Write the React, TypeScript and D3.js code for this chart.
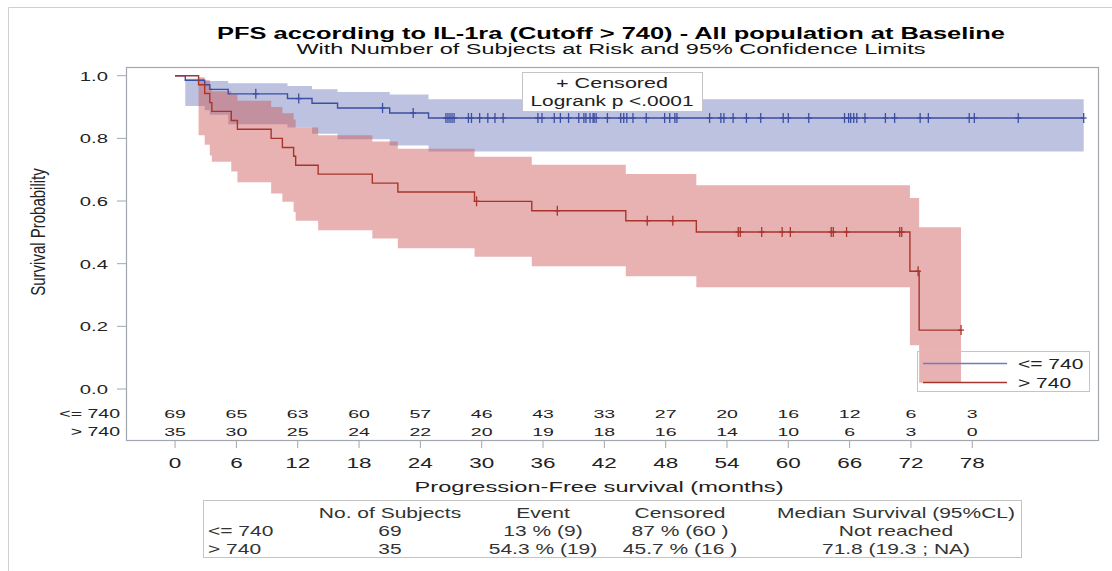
import React from "react";
import * as d3 from "d3";

// KM curves: PFS by IL-1ra cutoff (<= 740 vs > 740)
const groups = ["<= 740", "> 740"];

// <= 740 : event times, survival, 95% CL
const lowTimes = [1.0, 2.9, 3.4, 5.2, 11.0, 13.4, 15.9, 21.0, 24.8];
const lowSurv = [0.9855, 0.971, 0.9565, 0.942, 0.927, 0.912, 0.897, 0.881, 0.865];
const lowLower = [0.903, 0.89, 0.875, 0.845, 0.835, 0.815, 0.797, 0.777, 0.758];
const lowUpper = [0.99, 0.985, 0.983, 0.976, 0.967, 0.957, 0.948, 0.94, 0.925];
const lowEnd = 88.9;
const lowCensor = [
  7.9, 12.1, 20.3, 23.3, 26.5, 26.7, 26.9, 27.1, 27.3, 28.7, 29.0, 29.8, 30.6, 31.3, 32.1,
  35.5, 35.9, 37.1, 37.7, 38.5, 39.5, 40.0, 40.2, 40.6, 40.9, 41.0, 41.2, 42.3, 43.6, 43.9,
  44.2, 44.8, 46.1, 47.9, 48.4, 48.9, 49.1, 52.3, 53.4, 53.7, 54.6, 55.9, 57.3, 59.5, 60.0,
  62.0, 65.5, 65.9, 66.1, 66.4, 66.7, 67.5, 69.5, 70.4, 72.9, 73.7, 77.7, 78.2, 82.5, 88.9,
];

// > 740
const highTimes = [2.3, 2.9, 3.4, 3.6, 5.5, 6.1, 9.4, 10.5, 11.6, 11.8, 14.0, 19.3, 21.8, 29.3, 34.9, 44.1, 51.0, 71.9, 72.8];
const highSurv = [0.971, 0.943, 0.914, 0.886, 0.857, 0.829, 0.8, 0.771, 0.743, 0.714, 0.686, 0.657, 0.629, 0.599, 0.569, 0.537, 0.501, 0.376, 0.188];
const highLower = [0.81, 0.78, 0.745, 0.725, 0.694, 0.66, 0.624, 0.598, 0.565, 0.537, 0.507, 0.48, 0.449, 0.422, 0.392, 0.36, 0.325, 0.14, 0.02];
const highUpper = [0.995, 0.985, 0.96, 0.95, 0.94, 0.92, 0.9, 0.88, 0.86, 0.835, 0.81, 0.79, 0.767, 0.741, 0.716, 0.686, 0.65, 0.61, 0.516];
const highEnd = 76.9;
const highCensor = [29.5, 37.4, 46.2, 48.7, 55.1, 55.3, 57.4, 59.4, 60.2, 64.2, 64.4, 65.7, 70.9, 71.1, 72.7, 76.9];

// at risk
const xTicks = [0, 6, 12, 18, 24, 30, 36, 42, 48, 54, 60, 66, 72, 78];
const atRiskLow = [69, 65, 63, 60, 57, 46, 43, 33, 27, 20, 16, 12, 6, 3];
const atRiskHigh = [35, 30, 25, 24, 22, 20, 19, 18, 16, 14, 10, 6, 3, 0];
const yTicks = [0, 0.2, 0.4, 0.6, 0.8, 1.0];

// summary table
const tableHead = ["No. of Subjects", "Event", "Censored", "Median Survival (95%CL)"];
const tableN = ["69", "35"];
const tableEvent = ["13 % (9)", "54.3 % (19)"];
const tableCens = ["87 % (60 )", "45.7 % (16 )"];
const tableMedian = ["Not reached", "71.8 (19.3 ; NA)"];

const FONT = "'Liberation Sans', Arial, sans-serif";
const BLUE = "#3d4fa2";
const RED = "#a8352c";
const GRID = "#a3a7ae";

function Txt({ x, y, anchor = "start", size = 14, weight = "normal", sx = 1.5, fill = "#222", len, children }: any) {
  const extra = len ? { textLength: len / sx, lengthAdjust: "spacingAndGlyphs" } : {};
  return (
    <text transform={`translate(${x},${y}) scale(${sx},1)`} textAnchor={anchor} fontSize={size}
      fontWeight={weight} fill={fill} fontFamily={FONT} {...extra}>
      {children}
    </text>
  );
}

export default function App() {
  const left = 126, right = 1098, top = 67, bottom = 440;
  const x = d3.scaleLinear().domain([-4.8, 90.3]).range([left, right]);
  const y = d3.scaleLinear().domain([0, 1]).range([389, 75.7]);

  const km = (times: number[], surv: number[], end: number) =>
    d3.line<[number, number]>().x((d) => x(d[0])).y((d) => y(d[1])).curve(d3.curveStepAfter)(
      [[0, 1], ...times.map((t, i) => [t, surv[i]] as [number, number]), [end, surv[surv.length - 1]]]
    ) as string;

  const band = (times: number[], lo: number[], hi: number[], end: number) => {
    const pts = times.map((t, i) => ({ t, lo: lo[i], hi: hi[i] }));
    pts.push({ t: end, lo: lo[lo.length - 1], hi: hi[hi.length - 1] });
    return d3.area<any>().x((d) => x(d.t)).y0((d) => y(d.lo)).y1((d) => y(d.hi)).curve(d3.curveStepAfter)(pts) as string;
  };

  const survAt = (times: number[], surv: number[], t: number) => {
    let s = 1;
    times.forEach((tt, i) => { if (tt <= t) s = surv[i]; });
    return s;
  };

  const censorMarks = (cens: number[], times: number[], surv: number[], color: string) =>
    cens.map((t, i) => {
      const cx = x(t), cy = y(survAt(times, surv, t));
      return (
        <g key={i} stroke={color} strokeWidth={1.3}>
          <line x1={cx} x2={cx} y1={cy - 5} y2={cy + 5} />
          <line x1={cx - 3} x2={cx + 3} y1={cy} y2={cy} />
        </g>
      );
    });

  const colX = [390, 543, 680, 896];

  return (
    <svg width={1112} height={571} style={{ position: "absolute", left: 0, top: 0, background: "#fff" }}>
      {/* outer border */}
      <path d="M8.5,571 V7.5 H1112" fill="none" stroke="#d0d0d0" />

      <Txt x={611} y={39} anchor="middle" size={17} weight="bold" fill="#000" len={788}>
        PFS according to IL-1ra (Cutoff &gt; 740) - All population at Baseline
      </Txt>
      <Txt x={611} y={54} anchor="middle" size={14.5} fill="#111" len={629}>
        With Number of Subjects at Risk and 95% Confidence Limits
      </Txt>

      {/* bands */}
      <path d={band(lowTimes, lowLower, lowUpper, lowEnd)} fill="#6b78b8" fillOpacity={0.45} />
      <path d={band(highTimes, highLower, highUpper, highEnd)} fill="#cc5555" fillOpacity={0.45} />

      {/* curves */}
      <path d={km(lowTimes, lowSurv, lowEnd)} fill="none" stroke={BLUE} strokeWidth={1.4} />
      <path d={km(highTimes, highSurv, highEnd)} fill="none" stroke={RED} strokeWidth={1.4} />
      {censorMarks(lowCensor, lowTimes, lowSurv, BLUE)}
      {censorMarks(highCensor, highTimes, highSurv, RED)}

      {/* frame */}
      <rect x={left + 0.5} y={top + 0.5} width={right - left} height={bottom - top} fill="none" stroke={GRID} strokeWidth={1.2} />

      {/* y axis */}
      {yTicks.map((v) => (
        <g key={v}>
          <line x1={left - 9} x2={left} y1={y(v)} y2={y(v)} stroke={GRID} />
          <Txt x={left - 18} y={y(v) + 5} anchor="end" size={13.5}>{v.toFixed(1)}</Txt>
        </g>
      ))}
      <text transform="translate(45,232) scale(1.35,1) rotate(-90)" textAnchor="middle" fontSize={15}
        fontFamily={FONT} fill="#222">Survival Probability</text>

      {/* x axis */}
      {xTicks.map((v) => (
        <g key={v}>
          <line x1={x(v)} x2={x(v)} y1={bottom + 1} y2={bottom + 8} stroke={GRID} />
          <Txt x={x(v)} y={468} anchor="middle" size={15}>{v}</Txt>
        </g>
      ))}
      <Txt x={599} y={492} anchor="middle" size={15.5} len={369}>Progression-Free survival (months)</Txt>

      {/* at risk */}
      <Txt x={120} y={418} anchor="end" size={13}>{groups[0]}</Txt>
      <Txt x={120} y={435.5} anchor="end" size={13}>{groups[1]}</Txt>
      {xTicks.map((v, i) => (
        <g key={v}>
          <Txt x={x(v)} y={418} anchor="middle" size={11.5} sx={1.7}>{atRiskLow[i]}</Txt>
          <Txt x={x(v)} y={435.5} anchor="middle" size={11.5} sx={1.7}>{atRiskHigh[i]}</Txt>
        </g>
      ))}

      {/* inset legend */}
      <rect x={522.5} y={72.5} width={180} height={39} fill="#fff" stroke="#c4c4c4" />
      <Txt x={612} y={88} anchor="middle" size={14.5} len={112}>+ Censored</Txt>
      <Txt x={612} y={106} anchor="middle" size={14.5} len={163}>Logrank p &lt;.0001</Txt>

      {/* group legend */}
      <rect x={917.5} y={351.5} width={172} height={40} fill="none" stroke="#c4c4c4" />
      <line x1={923} x2={1007} y1={363.5} y2={363.5} stroke="#6f7bbf" strokeWidth={1.4} />
      <line x1={923} x2={1007} y1={382.5} y2={382.5} stroke={RED} strokeWidth={1.4} />
      <Txt x={1018} y={368.5} size={14}>{groups[0]}</Txt>
      <Txt x={1018} y={387.5} size={14}>{groups[1]}</Txt>

      {/* summary table */}
      <rect x={203.5} y={500.5} width={818} height={57} fill="none" stroke="#c4c4c4" />
      {tableHead.map((h, i) => (
        <Txt key={h} x={colX[i]} y={518} anchor="middle" size={14} fill="#333">{h}</Txt>
      ))}
      {groups.map((g, r) => (
        <g key={g}>
          <Txt x={208} y={536 + r * 18} size={14} fill="#333">{g}</Txt>
          <Txt x={colX[0]} y={536 + r * 18} anchor="middle" size={14} fill="#333">{tableN[r]}</Txt>
          <Txt x={colX[1]} y={536 + r * 18} anchor="middle" size={14} fill="#333">{tableEvent[r]}</Txt>
          <Txt x={colX[2]} y={536 + r * 18} anchor="middle" size={14} fill="#333">{tableCens[r]}</Txt>
          <Txt x={colX[3]} y={536 + r * 18} anchor="middle" size={14} fill="#333">{tableMedian[r]}</Txt>
        </g>
      ))}
    </svg>
  );
}
